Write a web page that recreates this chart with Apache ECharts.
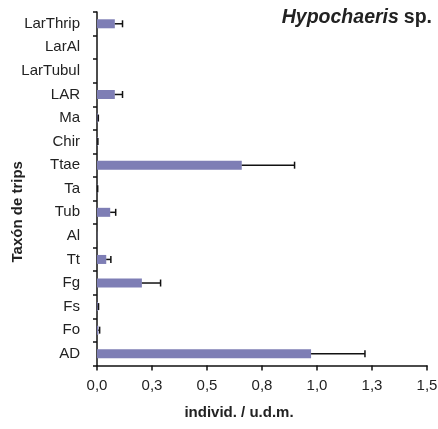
<!DOCTYPE html>
<html>
<head>
<meta charset="utf-8">
<script src="https://cdn.jsdelivr.net/npm/echarts@6/dist/echarts.min.js"></script>
<style>html,body{margin:0;padding:0;background:#fff}#c{width:438px;height:429px}</style>
</head>
<body>
<div id="c"></div>
<script>
// Categories bottom to top (ECharts category y axis starts at bottom)
var categories = ['AD','Fo','Fs','Fg','Tt','Al','Tub','Ta','Ttae','Chir','Ma','LAR','LarTubul','LarAl','LarThrip'];
var means  = [0.973, 0.006, 0.004, 0.204, 0.042, 0.001, 0.060, 0.002, 0.658, 0.003, 0.004, 0.081, 0, 0, 0.081];
var errors = [0.245, 0.006, 0.003, 0.085, 0.021, 0,     0.025, 0.001, 0.240, 0.001, 0.002, 0.035, 0, 0, 0.035];
var xTicks = [0, 0.25, 0.5, 0.75, 1.0, 1.25, 1.5];

var FONT = 'Liberation Sans, Arial, sans-serif';
var errData = categories.map(function (c, i) { return [i, means[i], errors[i]]; });

var chart = echarts.init(document.getElementById('c'), null, {renderer: 'canvas'});
chart.setOption({
  animation: false,
  backgroundColor: '#fff',
  title: {
    text: '{it|Hypochaeris} {n|sp.}',
    right: 1, top: 3,
    textStyle: {
      rich: {
        it: {fontFamily: FONT, fontSize: 19.5, fontWeight: 'bold', fontStyle: 'italic', color: '#222'},
        n: {fontFamily: FONT, fontSize: 19.5, fontWeight: 'bold', color: '#222'}
      }
    }
  },
  grid: {left: 97, right: 11, top: 12, bottom: 63.5, containLabel: false, outerBoundsMode: 'none'},
  xAxis: {
    type: 'value',
    min: xTicks[0], max: xTicks[xTicks.length - 1], interval: 0.25,
    name: 'individ. / u.d.m.',
    nameLocation: 'middle', nameGap: 40, nameMoveOverlap: false,
    nameTextStyle: {fontFamily: FONT, fontSize: 15, fontWeight: 'bold', color: '#222', padding: [0, 46, 0, 0]},
    axisLine: {show: true, lineStyle: {color: '#111', width: 1.5}},
    axisTick: {show: true, length: 5, lineStyle: {color: '#111', width: 1.5}},
    splitLine: {show: false},
    axisLabel: {
      margin: 13, fontFamily: FONT, fontSize: 15, color: '#222',
      formatter: function (v) { return v.toFixed(1).replace('.', ','); }
    }
  },
  yAxis: {
    type: 'category',
    data: categories,
    name: 'Taxón de trips',
    nameLocation: 'middle', nameGap: 72, nameMoveOverlap: false,
    nameTextStyle: {fontFamily: FONT, fontSize: 15, fontWeight: 'bold', color: '#222', padding: [0, 46, 0, 0]},
    axisLine: {show: true, lineStyle: {color: '#111', width: 1.5}},
    axisTick: {show: true, length: 4, alignWithLabel: false, lineStyle: {color: '#111', width: 1.5}},
    axisLabel: {margin: 17, fontFamily: FONT, fontSize: 15, color: '#222'}
  },
  series: [
    {
      type: 'bar',
      data: means,
      barWidth: 9,
      itemStyle: {color: '#7e7eb5'},
      z: 2
    },
    {
      type: 'custom',
      data: errData,
      z: 3,
      renderItem: function (params, api) {
        var ci = api.value(0), m = api.value(1), e = api.value(2);
        if (!e) return null;
        var p0 = api.coord([m, ci]);
        var p1 = api.coord([m + e, ci]);
        var h = 3.5;
        return {
          type: 'group',
          children: [
            {type: 'line', shape: {x1: p0[0], y1: p0[1], x2: p1[0], y2: p1[1]}, style: {stroke: '#111', lineWidth: 1.5}},
            {type: 'line', shape: {x1: p1[0], y1: p1[1] - h, x2: p1[0], y2: p1[1] + h}, style: {stroke: '#111', lineWidth: 1.5}}
          ]
        };
      },
      encode: {x: 1, y: 0}
    }
  ]
});
</script>
</body>
</html>
